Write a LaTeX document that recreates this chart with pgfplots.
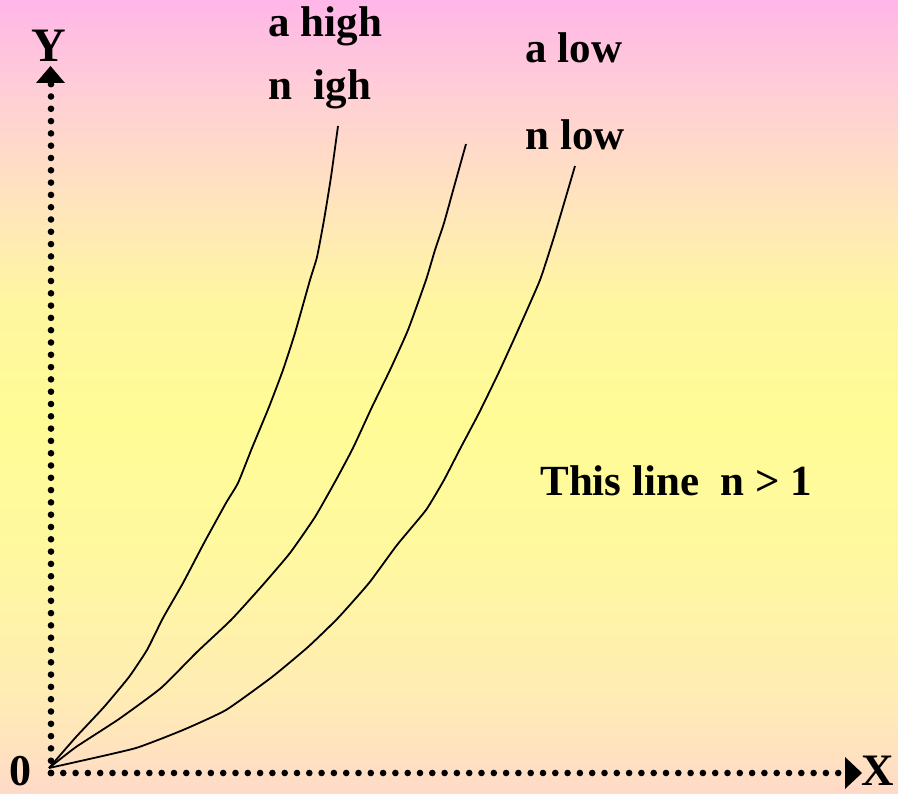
\documentclass[border=0pt]{standalone}
\usepackage{pgfplots}
\pgfplotsset{compat=1.18}
\usepackage{fontspec}
\setmainfont{Liberation Serif}
\definecolor{c0}{RGB}{255,218,200}
\definecolor{c1}{RGB}{255,236,180}
\definecolor{c2}{RGB}{255,248,160}
\definecolor{c3}{RGB}{255,252,150}
\definecolor{c4}{RGB}{255,246,160}
\definecolor{c5}{RGB}{255,228,190}
\definecolor{c6}{RGB}{255,208,212}
\definecolor{c7}{RGB}{255,182,232}
\pgfdeclareverticalshading{bgshade}{100bp}{
 color(0bp)=(c0); color(25bp)=(c0); color(31bp)=(c1); color(39.7bp)=(c2);
 color(48.5bp)=(c3); color(56bp)=(c4); color(62.4bp)=(c5); color(68.7bp)=(c6);
 color(75bp)=(c7); color(100bp)=(c7)}
\begin{document}
\begin{tikzpicture}
\begin{axis}[
  width=449pt, height=396.5pt, scale only axis, hide axis,
  xmin=0, xmax=898, ymin=0, ymax=793, clip=false]
\fill[shading=bgshade] (rel axis cs:0,0) rectangle (rel axis cs:1,1);
% dotted axes
\draw[line width=3.3pt, line cap=round, dash pattern=on 0pt off 6.15pt]
  (axis cs:51,20) -- (axis cs:51,712);
\draw[line width=3.3pt, line cap=round, dash pattern=on 0pt off 6.15pt]
  (axis cs:51,20) -- (axis cs:842,20);
\fill (axis cs:36,710) -- (axis cs:65,710) -- (axis cs:50.5,727) -- cycle;
\fill (axis cs:845,36) -- (axis cs:845,4) -- (axis cs:862,20) -- cycle;
% curves
\addplot[black, line width=0.9pt, smooth, tension=0.3] coordinates {
 (49,25) (76,56) (104,86) (129,116) (147,143) (163,175) (183,210) (204,250)
 (226,290) (238,310) (252,345) (269,386) (283,423) (295,460) (310,513)
 (317,536) (324,573) (331,616) (338,667)};
\addplot[black, line width=0.9pt, smooth, tension=0.3] coordinates {
 (49,25) (76,46) (119,74) (161,105) (197,141) (231,173) (261,206) (290,240)
 (315,276) (336,313) (353,345) (372,386) (390,423) (408,463) (426,513)
 (435,543) (444,570) (454,606) (466,649)};
\addplot[black, line width=0.9pt, smooth, tension=0.3] coordinates {
 (49,25) (76,31) (136,45) (183,63) (226,83) (272,116) (308,146) (338,175)
 (369,210) (397,248) (426,283) (444,313) (460,344) (479,380) (499,421)
 (519,465) (540,513) (554,556) (565,593) (575,627)};
% labels
\begin{scope}[every node/.style={inner sep=0pt, font=\fontsize{21.5}{26}\selectfont\bfseries}]
\node[anchor=base west] at (axis cs:268,756) {a high};
\node[anchor=base west] at (axis cs:268,693) {n~~igh};
\node[anchor=base west] at (axis cs:525,730) {a low};
\node[anchor=base west] at (axis cs:525,643) {n low};
\node[anchor=base west] at (axis cs:540,298) {This line~~n > 1};
\node[anchor=base, font=\fontsize{24}{28}\selectfont\bfseries] at (axis cs:48.5,731) {Y};
\node[anchor=base east, font=\fontsize{22.5}{27}\selectfont\bfseries] at (axis cs:894,8) {X};
\node[anchor=base west, font=\fontsize{22}{26}\selectfont\bfseries] at (axis cs:9,8) {0};
\end{scope}
\end{axis}
\pgfresetboundingbox
\path[use as bounding box] (current axis.south west) rectangle (current axis.north east);
\end{tikzpicture}
\end{document}
